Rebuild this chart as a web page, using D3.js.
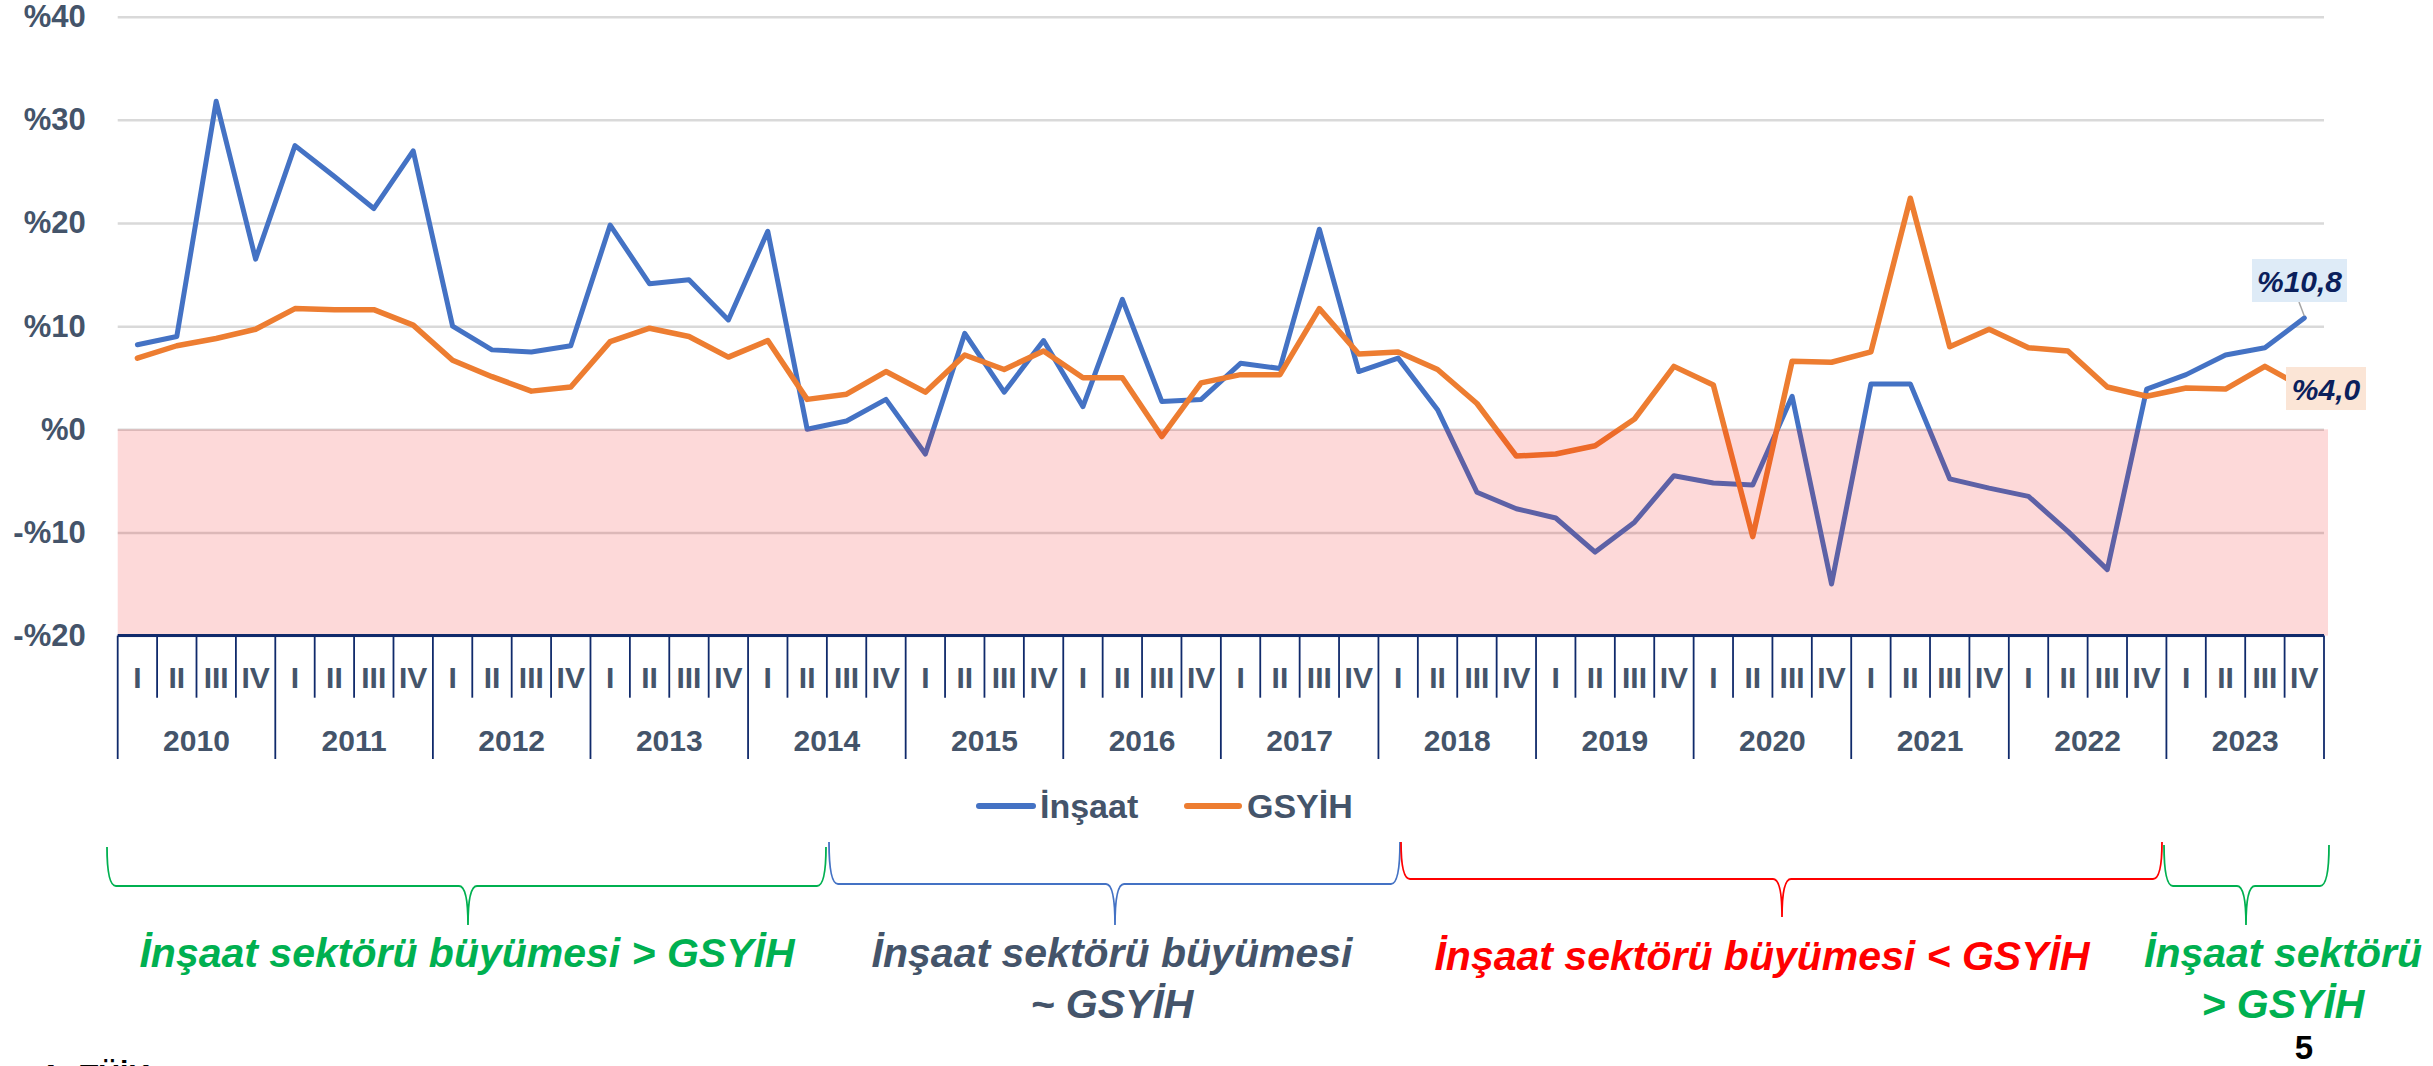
<!DOCTYPE html>
<html>
<head>
<meta charset="utf-8">
<script src="https://cdnjs.cloudflare.com/ajax/libs/d3/7.8.5/d3.min.js"></script>
<style>
body { margin: 0; background: #fff; }
svg { display: block; font-family: "Liberation Sans", Arial, sans-serif; }
</style>
</head>
<body>
<svg id="viz"></svg>
<script>
var years = ['2010','2011','2012','2013','2014','2015','2016','2017','2018','2019','2020','2021','2022','2023'];
var quarters = ['I','II','III','IV'];

// yillik buyume, ceyrek bazinda (%)
var insaat = [8.2, 9.0, 31.8, 16.5, 27.5, 24.5, 21.4, 27.0,
              10.0, 7.7, 7.5, 8.1, 19.8, 14.1, 14.5, 10.6,
              19.2, 0.0, 0.8, 2.9, -2.4, 9.3, 3.6, 8.6,
              2.2, 12.6, 2.7, 2.9, 6.4, 5.9, 19.4, 5.6,
              6.9, 1.9, -6.1, -7.7, -8.6, -11.9, -9.0, -4.5,
              -5.2, -5.4, 3.2, -15.0, 4.4, 4.4, -4.8, -5.7,
              -6.5, -9.9, -13.6, 3.9, 5.3, 7.2, 7.9, 10.8];
var gsyih = [6.9, 8.1, 8.8, 9.7, 11.7, 11.6, 11.6, 10.1,
             6.7, 5.1, 3.7, 4.1, 8.5, 9.8, 9.0, 7.0,
             8.6, 2.9, 3.4, 5.6, 3.6, 7.2, 5.8, 7.6,
             5.0, 5.0, -0.7, 4.5, 5.3, 5.3, 11.7, 7.3,
             7.5, 5.8, 2.5, -2.6, -2.4, -1.6, 1.0, 6.1,
             4.3, -10.4, 6.6, 6.5, 7.5, 22.4, 8.0, 9.7,
             7.9, 7.6, 4.1, 3.2, 4.0, 3.9, 6.1, 4.0];
var yTicks = [-20, -10, 0, 10, 20, 30, 40];
var seriesNames = ['İnşaat', 'GSYİH'];
var lastLabels = ['%10,8', '%4,0'];

var braceTexts = [
    ['İnşaat sektörü büyümesi > GSYİH'],
    ['İnşaat sektörü büyümesi', '~ GSYİH'],
    ['İnşaat sektörü büyümesi < GSYİH'],
    ['İnşaat sektörü', '> GSYİH']
];

var width = 2433, height = 1066;
var pLeft = 117.7, pRight = 2324, pTop = 16.7, pBottom = 635.6;
var blue = '#4472C4', orange = '#ED7D31', textcol = '#44546A', navy = '#102A6B';

var categories = [];
years.forEach(function(y) {
    quarters.forEach(function(q) { categories.push(y + '-' + q); });
});

var svg = d3.select('#viz').attr('width', width).attr('height', height);
svg.append('rect').attr('width', width).attr('height', height).attr('fill', '#fff');

var x = d3.scaleBand().domain(categories).range([pLeft, pRight]).padding(0);
var bw = x.bandwidth();
var y = d3.scaleLinear().domain([-20, 40]).range([pBottom, pTop]);
var cx = function(i) { return x(categories[i]) + bw / 2; };

// grid + y labels
var yAxis = svg.append('g')
    .attr('transform', 'translate(' + pLeft + ',0)')
    .call(d3.axisLeft(y).tickValues(yTicks).tickSize(-(pRight - pLeft)).tickPadding(32)
        .tickFormat(function(d) { return (d < 0 ? '-%' : '%') + Math.abs(d); }));
yAxis.select('.domain').remove();
yAxis.selectAll('line').attr('stroke', '#D9D9D9').attr('stroke-width', 2.5);
yAxis.selectAll('text')
    .attr('fill', textcol).attr('font-size', 31).attr('font-weight', 'bold')
    .attr('font-family', '"Liberation Sans", Arial, sans-serif');

// lines
var line = d3.line()
    .x(function(d, i) { return cx(i); })
    .y(function(d) { return y(d); });

svg.append('path').datum(insaat)
    .attr('d', line).attr('fill', 'none')
    .attr('stroke', blue).attr('stroke-width', 5)
    .attr('stroke-linejoin', 'round').attr('stroke-linecap', 'round');
svg.append('path').datum(gsyih)
    .attr('d', line).attr('fill', 'none')
    .attr('stroke', orange).attr('stroke-width', 5.5)
    .attr('stroke-linejoin', 'round').attr('stroke-linecap', 'round');

// negative zone, drawn over the lines
svg.append('rect')
    .attr('x', pLeft).attr('y', y(0))
    .attr('width', pRight - pLeft + 4).attr('height', y(-20) - y(0))
    .attr('fill', 'rgb(241,0,0)').attr('opacity', 0.15);

// category axis box
svg.append('line')
    .attr('x1', pLeft).attr('x2', pRight).attr('y1', pBottom).attr('y2', pBottom)
    .attr('stroke', navy).attr('stroke-width', 3);

svg.append('g').selectAll('line')
    .data(d3.range(categories.length + 1))
    .enter().append('line')
    .attr('x1', function(i) { return pLeft + i * bw; })
    .attr('x2', function(i) { return pLeft + i * bw; })
    .attr('y1', pBottom)
    .attr('y2', function(i) { return i % 4 == 0 ? 759 : 697.7; })
    .attr('stroke', navy).attr('stroke-width', 1.8);

svg.append('g').selectAll('text')
    .data(categories).enter().append('text')
    .attr('x', function(d) { return x(d) + bw / 2; })
    .attr('y', 688)
    .attr('text-anchor', 'middle')
    .attr('font-size', 30).attr('font-weight', 'bold').attr('fill', textcol)
    .text(function(d) { return d.split('-')[1]; });

svg.append('g').selectAll('text')
    .data(years).enter().append('text')
    .attr('x', function(d) { return x(d + '-I') + bw * 2; })
    .attr('y', 751)
    .attr('text-anchor', 'middle')
    .attr('font-size', 30).attr('font-weight', 'bold').attr('fill', textcol)
    .text(function(d) { return d; });

// last value labels
var n = categories.length - 1;
svg.append('line')
    .attr('x1', 2299).attr('y1', 302).attr('x2', cx(n)).attr('y2', y(insaat[n]) - 2)
    .attr('stroke', '#A6A6A6').attr('stroke-width', 1.5);

var boxes = [
    {x: 2252, y: 259, w: 95, h: 43, fill: '#DEEBF7'},
    {x: 2286, y: 367, w: 80, h: 43, fill: '#FBE5D6'}
];
boxes.forEach(function(b, i) {
    svg.append('rect').attr('x', b.x).attr('y', b.y).attr('width', b.w).attr('height', b.h)
        .attr('fill', b.fill);
    svg.append('text').attr('x', b.x + b.w / 2).attr('y', b.y + b.h / 2 + 11)
        .attr('text-anchor', 'middle')
        .attr('font-size', 30).attr('font-weight', 'bold').attr('font-style', 'italic')
        .attr('fill', '#0B1F5C')
        .text(lastLabels[i]);
});

// legend
var legend = svg.append('g');
[[979, 1033, 1040, blue], [1187, 1239, 1247, orange]].forEach(function(l, i) {
    legend.append('line').attr('x1', l[0]).attr('x2', l[1]).attr('y1', 806).attr('y2', 806)
        .attr('stroke', l[3]).attr('stroke-width', 6).attr('stroke-linecap', 'round');
    legend.append('text').attr('x', l[2]).attr('y', 818)
        .attr('font-size', 34).attr('font-weight', 'bold').attr('fill', textcol)
        .text(seriesNames[i]);
});

// braces
function brace(xl, xr, ytop, yh, xm, ytip) {
    var r = 9;
    return 'M' + xl + ',' + ytop +
        ' Q' + xl + ',' + yh + ' ' + (xl + r) + ',' + yh +
        ' L' + (xm - r) + ',' + yh +
        ' Q' + xm + ',' + yh + ' ' + xm + ',' + ytip +
        ' Q' + xm + ',' + yh + ' ' + (xm + r) + ',' + yh +
        ' L' + (xr - r) + ',' + yh +
        ' Q' + xr + ',' + yh + ' ' + xr + ',' + ytop;
}
var braces = [
    {xl: 107, xr: 826, ytop: 847, yh: 886, xm: 468, ytip: 925, col: '#00B050', tx: 467, ty: 967},
    {xl: 829, xr: 1400, ytop: 842, yh: 884, xm: 1115, ytip: 925, col: '#4472C4', tx: 1112, ty: 967, tcol: textcol},
    {xl: 1401, xr: 2162, ytop: 842, yh: 879, xm: 1782, ytip: 917, col: '#FF0000', tx: 1762, ty: 970},
    {xl: 2164, xr: 2329, ytop: 845, yh: 886, xm: 2246, ytip: 925, col: '#00B050', tx: 2283, ty: 967}
];
braces.forEach(function(b, i) {
    svg.append('path').attr('d', brace(b.xl, b.xr, b.ytop, b.yh, b.xm, b.ytip))
        .attr('fill', 'none').attr('stroke', b.col).attr('stroke-width', 1.8);
    braceTexts[i].forEach(function(t, j) {
        svg.append('text').attr('x', b.tx).attr('y', b.ty + j * 51)
            .attr('text-anchor', 'middle')
            .attr('font-size', 41).attr('font-weight', 'bold').attr('font-style', 'italic')
            .attr('fill', b.tcol || b.col)
            .text(t);
    });
});

// page number, source
svg.append('text').attr('x', 2304).attr('y', 1059).attr('text-anchor', 'middle')
    .attr('font-size', 33).attr('font-weight', 'bold').attr('fill', '#000').text('5');
svg.append('text').attr('x', 40).attr('y', 1085)
    .attr('font-size', 30).attr('font-weight', 'bold').attr('fill', '#000').text('A: TÜİK');
</script>
</body>
</html>
